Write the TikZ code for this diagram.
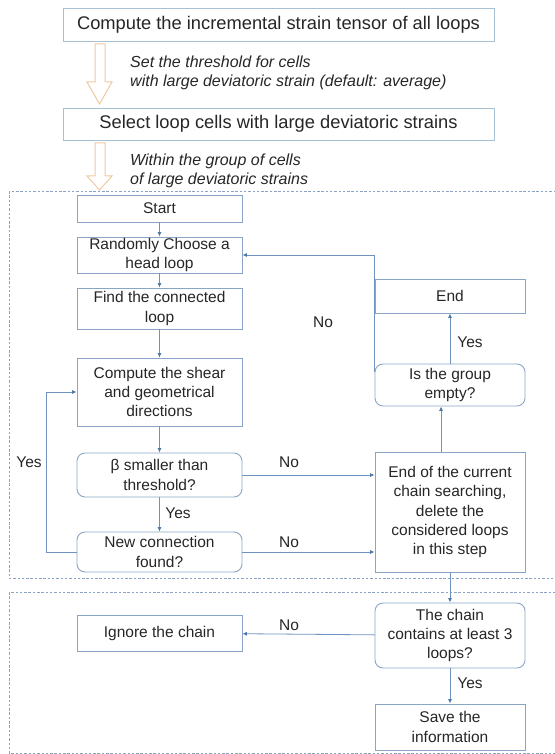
\documentclass[tikz,border=0pt]{standalone}
\usepackage{fontspec}
\setmainfont{Liberation Sans}
\usetikzlibrary{arrows.meta}
\definecolor{topborder}{HTML}{A6C2D4}
\definecolor{boxborder}{HTML}{8AA6C6}
\definecolor{connline}{HTML}{6F93BE}
\definecolor{conntip}{HTML}{4B78A8}
\definecolor{hollow}{HTML}{EEC9A2}
\definecolor{dashcol}{HTML}{8AA3C2}
\definecolor{txt}{HTML}{262626}
\tikzset{
  topbox/.style={draw=topborder, line width=0.9pt, minimum width=431pt, inner sep=0pt, text=txt,
    font=\fontsize{18.3}{22}\selectfont},
  flowbox/.style={draw=boxborder, line width=0.9pt, minimum width=165pt, inner sep=0pt, text=txt,
    align=center, font=\fontsize{15.5}{19.3}\selectfont},
  rightbox/.style={flowbox, minimum width=150pt},
  rnd/.style={rounded corners=8pt},
  conn/.style={draw=connline, line width=0.8pt, -{Latex[length=4.5pt,width=4pt,color=conntip]}},
  lbl/.style={text=txt, font=\fontsize{15.5}{19.3}\selectfont, inner sep=0pt},
  note/.style={text=txt, font=\fontsize{16}{19}\selectfont\itshape, align=left, inner sep=0pt},
  hollowarrow/.style={draw=hollow, line width=1pt, line join=miter},
  dashbox/.style={draw=dashcol, line width=0.7pt, dash pattern=on 2.5pt off 1.8pt}
}
\begin{document}
\begin{tikzpicture}[x=1pt,y=-1pt]
\useasboundingbox (0,0) rectangle (554,754);
% dashed groups
\draw[dashbox] (9,191) rectangle (562,578);
\draw[dashbox] (9,592) rectangle (562,753);
% top boxes
\node[topbox, minimum height=33pt] (top1) at (278.5,24.5) {Compute the incremental strain tensor of all loops};
\node[topbox, minimum height=32pt] (top2) at (278.5,124) {Select loop cells with large deviatoric strains};
% hollow arrows
\draw[hollowarrow] (95,44) -- (105,44) -- (105,82) -- (112,82) -- (99.5,104) -- (87,82) -- (95,82) -- cycle;
\draw[hollowarrow] (95,143) -- (105,143) -- (105,176) -- (112,176) -- (99.5,190) -- (87,176) -- (95,176) -- cycle;
\node[note, anchor=west] (note1) at (130,72.5) {Set the threshold for cells\\with large deviatoric strain (default: average)};
\node[note, anchor=west] (note2) at (130,171) {Within the group of cells\\of large deviatoric strains};
% flow boxes (left)
\node[flowbox, minimum height=27pt] (start) at (159.5,208.5) {Start};
\node[flowbox, minimum height=36pt] (random) at (159.5,255) {Randomly Choose a\\head loop};
\node[flowbox, minimum height=41pt] (find) at (159.5,308.5) {Find the connected\\loop};
\node[flowbox, minimum height=68pt] (compute) at (159.5,392) {Compute the shear\\and geometrical\\directions};
\node[flowbox, rnd, minimum height=44pt] (beta) at (159.5,475) {β smaller than\\threshold?};
\node[flowbox, rnd, minimum height=40pt] (newconn) at (159.5,552) {New connection\\found?};
\node[flowbox, minimum height=36pt] (ignore) at (159.5,633) {Ignore the chain};
% flow boxes (right)
\node[rightbox, minimum height=34pt] (endbox) at (450,296) {End};
\node[rightbox, rnd, minimum height=42pt] (isgroup) at (450,385) {Is the group\\empty?};
\node[rightbox, minimum height=120pt] (endchain) at (450,512) {End of the current\\chain searching,\\delete the\\considered loops\\in this step};
\node[rightbox, rnd, minimum height=65pt] (chain) at (450,635.5) {The chain\\contains at least 3\\loops?};
\node[rightbox, minimum height=46pt] (save) at (450,727) {Save the\\information};
% connectors
\draw[conn] (start) -- (random);
\draw[conn] (random) -- (find);
\draw[conn] (find) -- (compute);
\draw[conn] (compute) -- (beta);
\draw[conn] (beta) -- (newconn);
\draw[conn] (beta) -- (endchain.west |- beta);
\draw[conn] (newconn) -- (endchain.west |- newconn);
\draw[conn] (newconn.west) -- ++(-30,0) |- (compute.west);
\draw[conn] ([xshift=-9pt]endchain.north) -- ([xshift=-9pt]isgroup.south);
\draw[conn] (isgroup) -- (endbox);
\draw[conn] ([yshift=-8pt]isgroup.north west) |- (random.east);
\draw[conn] (endchain) -- (chain);
\draw[conn] (chain) -- (ignore);
\draw[conn] (chain) -- (save);
% labels
\node[lbl] (l1) at (29,462) {Yes};
\node[lbl] (l2) at (289,462) {No};
\node[lbl] (l3) at (178,513) {Yes};
\node[lbl] (l4) at (289,542) {No};
\node[lbl] (l5) at (323,322) {No};
\node[lbl] (l6) at (470,342) {Yes};
\node[lbl] (l7) at (289,625) {No};
\node[lbl] (l8) at (470,683) {Yes};
\end{tikzpicture}
\end{document}
